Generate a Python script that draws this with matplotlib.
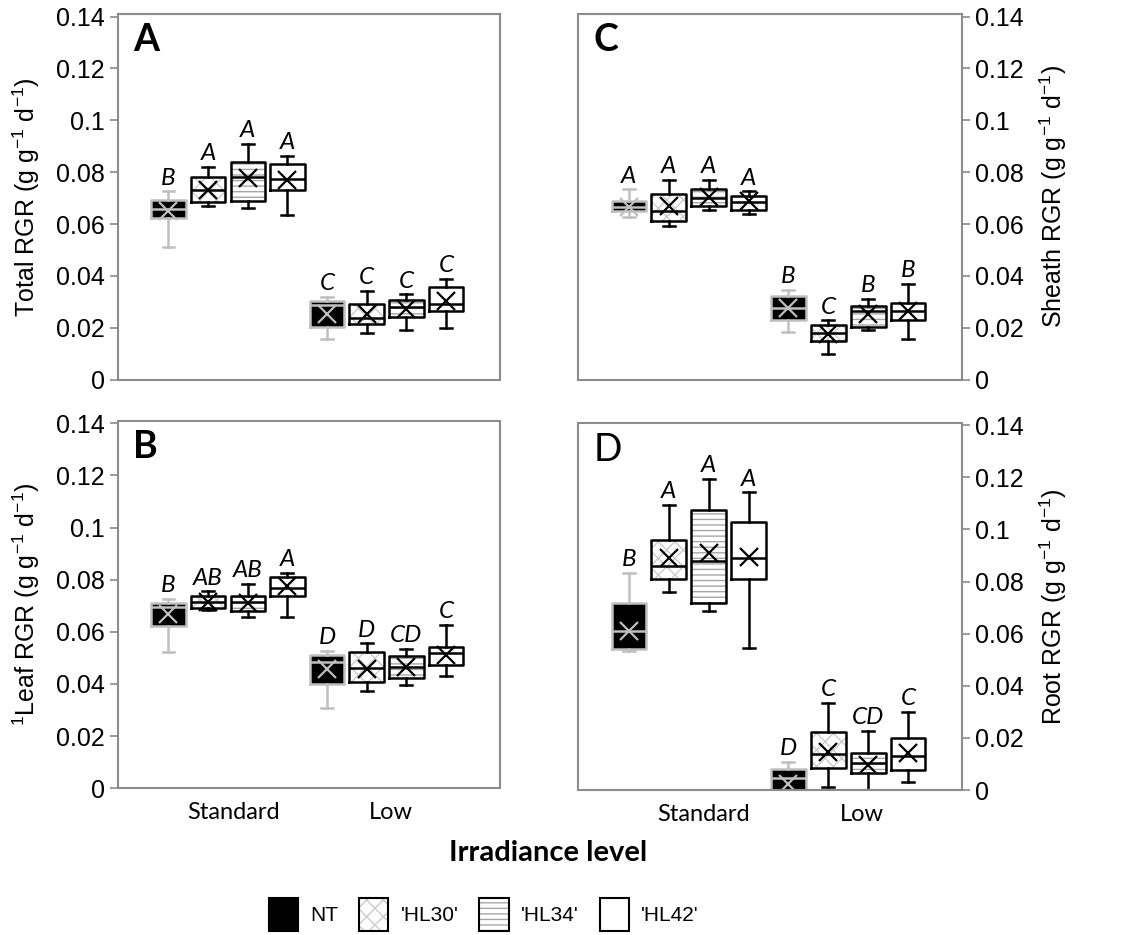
import matplotlib
matplotlib.use('Agg')
import matplotlib.pyplot as plt
from matplotlib.patches import Patch
from matplotlib.legend_handler import HandlerTuple
import numpy as np

plt.rcParams['font.family'] = ['Liberation Sans', 'DejaVu Sans']
plt.rcParams['mathtext.fontset'] = 'custom'
plt.rcParams['mathtext.rm'] = 'Liberation Sans'
plt.rcParams['mathtext.it'] = 'Liberation Sans:italic'
plt.rcParams['hatch.linewidth'] = 1.0

genotypes = ['NT', "'HL30'", "'HL34'", "'HL42'"]
irradiance = ['Standard', 'Low']
yticks = [0, 0.02, 0.04, 0.06, 0.08, 0.1, 0.12, 0.14]
ytick_labels = ['0', '0.02', '0.04', '0.06', '0.08', '0.1', '0.12', '0.14']

# box order: Standard NT, HL30, HL34, HL42, Low NT, HL30, HL34, HL42
# A - Total RGR
total_lo = [0.0512, 0.0671, 0.0662, 0.0635, 0.0157, 0.0178, 0.0191, 0.0200]
total_q1 = [0.0622, 0.0684, 0.0690, 0.0733, 0.0203, 0.0213, 0.0241, 0.0265]
total_med = [0.0658, 0.0733, 0.0781, 0.0772, 0.0286, 0.0236, 0.0281, 0.0293]
total_q3 = [0.0694, 0.0783, 0.0839, 0.0832, 0.0303, 0.0290, 0.0306, 0.0357]
total_hi = [0.0726, 0.0819, 0.0910, 0.0862, 0.0320, 0.0342, 0.0329, 0.0387]
total_mean = [0.0652, 0.0733, 0.0777, 0.0768, 0.0252, 0.0252, 0.0271, 0.0303]
total_let = ['B', 'A', 'A', 'A', 'C', 'C', 'C', 'C']

# B - Leaf RGR
leaf_lo = [0.0521, 0.0684, 0.0656, 0.0656, 0.0309, 0.0373, 0.0395, 0.0430]
leaf_q1 = [0.0622, 0.0690, 0.0681, 0.0739, 0.0398, 0.0408, 0.0423, 0.0472]
leaf_med = [0.0694, 0.0716, 0.0716, 0.0770, 0.0485, 0.0462, 0.0466, 0.0520]
leaf_q3 = [0.0712, 0.0739, 0.0739, 0.0812, 0.0511, 0.0521, 0.0507, 0.0543]
leaf_hi = [0.0726, 0.0755, 0.0784, 0.0825, 0.0527, 0.0556, 0.0536, 0.0626]
leaf_mean = [0.0667, 0.0713, 0.0710, 0.0774, 0.0456, 0.0456, 0.0466, 0.0511]
leaf_let = ['B', 'AB', 'AB', 'A', 'D', 'D', 'CD', 'C']

# C - Sheath RGR
sheath_lo = [0.0628, 0.0592, 0.0656, 0.0637, 0.0183, 0.0099, 0.0192, 0.0156]
sheath_q1 = [0.0651, 0.0612, 0.0670, 0.0656, 0.0228, 0.0147, 0.0202, 0.0231]
sheath_med = [0.0666, 0.0649, 0.0702, 0.0685, 0.0275, 0.0179, 0.0263, 0.0263]
sheath_q3 = [0.0688, 0.0715, 0.0734, 0.0707, 0.0323, 0.0211, 0.0284, 0.0297]
sheath_hi = [0.0734, 0.0769, 0.0769, 0.0726, 0.0346, 0.0228, 0.0311, 0.0368]
sheath_mean = [0.0666, 0.0670, 0.0704, 0.0689, 0.0275, 0.0175, 0.0254, 0.0263]
sheath_let = ['A', 'A', 'A', 'A', 'B', 'C', 'B', 'B']

# D - Root RGR
root_lo = [0.0535, 0.0760, 0.0689, 0.0547, -0.001, 0.0013, -0.002, 0.0032]
root_q1 = [0.0541, 0.0809, 0.0719, 0.0809, -0.002, 0.0084, 0.0064, 0.0077]
root_med = [0.0612, 0.0860, 0.0880, 0.0889, 0.0045, 0.0138, 0.0103, 0.0129]
root_q3 = [0.0717, 0.0960, 0.1073, 0.1030, 0.0081, 0.0222, 0.0142, 0.0200]
root_hi = [0.0833, 0.1095, 0.1194, 0.1142, 0.0107, 0.0335, 0.0228, 0.0300]
root_mean = [0.0612, 0.0889, 0.0911, 0.0895, 0.0022, 0.0148, 0.0097, 0.0144]
root_let = ['B', 'A', 'A', 'A', 'D', 'C', 'CD', 'C']

fill_colors = ['black', 'white', 'white', 'white']
hatches = ['', 'xx', '---', '']
hatch_colors = ['black', '#cccccc', '#a6a6a6', 'white']
line_colors = ['#bfbfbf', 'black', 'black', 'black']
frame_col = '#8c8c8c'


def draw_panel(ax, lo, q1, med, q3, hi, mean, letters):
    pos = np.arange(1, 9)
    for i in range(8):
        g = i % 4
        ax.bar(pos[i], q3[i] - q1[i], bottom=q1[i], width=0.87, color=fill_colors[g],
               hatch=hatches[g], edgecolor=hatch_colors[g], linewidth=0, zorder=1)
        st = dict(whislo=lo[i], q1=q1[i], med=med[i], q3=q3[i], whishi=hi[i], mean=mean[i])
        lc = line_colors[g]
        ax.bxp([st], positions=[pos[i]], widths=0.87, capwidths=0.3, showmeans=True,
               showfliers=False, manage_ticks=False, zorder=2,
               boxprops=dict(color=lc, linewidth=1.8),
               whiskerprops=dict(color=lc, linewidth=1.8),
               capprops=dict(color=lc, linewidth=1.8),
               medianprops=dict(color=lc, linewidth=1.8),
               meanprops=dict(marker='x', markeredgecolor=lc, markersize=13,
                              markeredgewidth=1.6))
        ax.annotate(letters[i], (pos[i], hi[i]), xytext=(0, 2), textcoords='offset points',
                    ha='center', va='bottom', fontsize=17.5, style='italic', family='Lato')


def setup(ax, ylabel, tag, tagbold=True, right=False, cats=None, catpos=None):
    ax.set_xlim(-0.27, 9.35)
    ax.set_ylim(0, 0.141)
    ax.set_yticks(yticks)
    ax.set_yticklabels(ytick_labels, fontsize=18)
    for s in ax.spines.values():
        s.set_color(frame_col)
        s.set_linewidth(1.5)
    ax.tick_params(axis='y', direction='out', length=6, width=1.2, color=frame_col)
    if right:
        ax.yaxis.tick_right()
        ax.yaxis.set_label_position('right')
    ax.set_ylabel(ylabel, fontsize=18, labelpad=10)
    if cats is None:
        ax.set_xticks([])
    else:
        ax.set_xticks(catpos)
        ax.set_xticklabels(cats, fontsize=17, family='Lato')
        ax.tick_params(axis='x', length=0, pad=10)
    ax.text(0.04, 0.975, tag, transform=ax.transAxes, ha='left', va='top', fontsize=27,
            family='Lato', fontweight='bold' if tagbold else 'normal')


fig = plt.figure(figsize=(11.25, 9.35), dpi=100)
axA = fig.add_axes([0.105, 0.594, 0.339, 0.391])
axC = fig.add_axes([0.514, 0.594, 0.341, 0.391])
axB = fig.add_axes([0.105, 0.157, 0.339, 0.393])
axD = fig.add_axes([0.514, 0.155, 0.341, 0.393])

draw_panel(axA, total_lo, total_q1, total_med, total_q3, total_hi, total_mean, total_let)
draw_panel(axB, leaf_lo, leaf_q1, leaf_med, leaf_q3, leaf_hi, leaf_mean, leaf_let)
draw_panel(axC, sheath_lo, sheath_q1, sheath_med, sheath_q3, sheath_hi, sheath_mean, sheath_let)
draw_panel(axD, root_lo, root_q1, root_med, root_q3, root_hi, root_mean, root_let)

unit = ' (g g$^{-1}$ d$^{-1}$)'
setup(axA, 'Total RGR' + unit, 'A')
setup(axC, 'Sheath RGR' + unit, 'C', right=True)
setup(axB, '$^{1}$Leaf RGR' + unit, 'B', cats=irradiance, catpos=[2.64, 6.6])
setup(axD, 'Root RGR' + unit, 'D', tagbold=False, right=True, cats=irradiance, catpos=[2.88, 6.85])

# the 0.1 and 0.12 tick marks of panel C are blue in the original
for t in axC.yaxis.get_major_ticks()[5:7]:
    t.tick2line.set_color('#4472c4')

fig.text(0.487, 0.088, 'Irradiance level', ha='center', va='center', fontsize=21,
         fontweight='bold', family='Lato')

handles = []
for g in range(4):
    fill = Patch(facecolor=fill_colors[g], hatch=hatches[g], edgecolor=hatch_colors[g], linewidth=0)
    edge = Patch(facecolor='none', edgecolor='black', linewidth=1.5)
    handles.append((fill, edge))
fig.legend(handles, genotypes, handler_map={tuple: HandlerTuple(ndivide=1)},
           loc='center', bbox_to_anchor=(0.43, 0.022), ncol=4, frameon=False,
           fontsize=15, handlelength=1.4, handleheight=2.0, handletextpad=0.6,
           columnspacing=1.0)

fig.savefig('out.png', dpi=100)
